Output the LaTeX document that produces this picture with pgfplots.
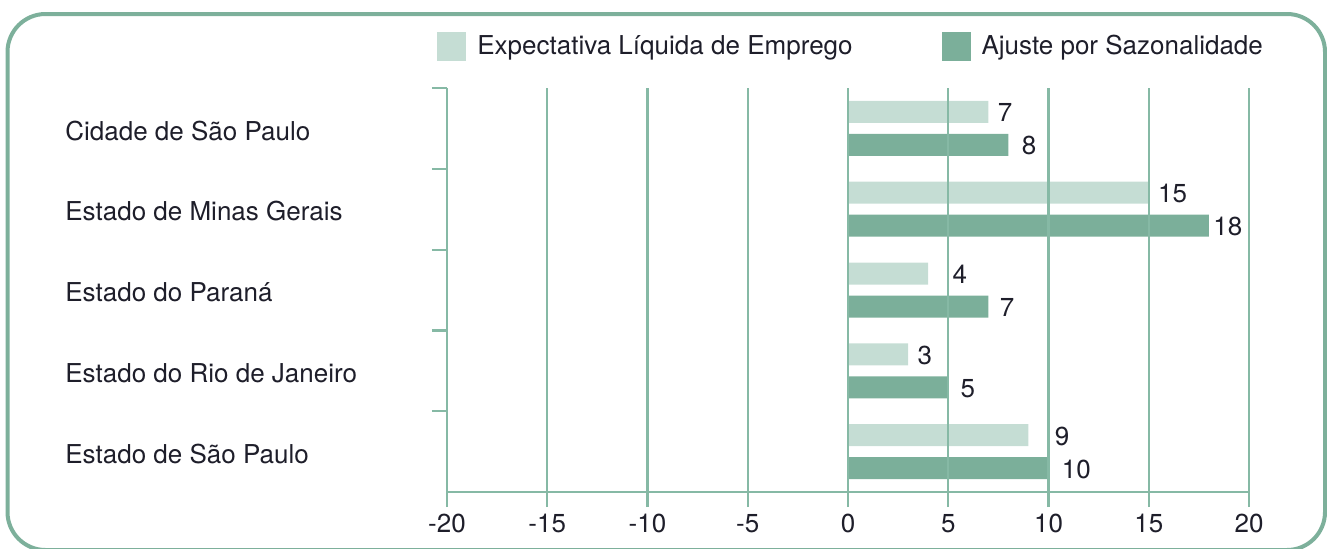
\documentclass[border=0pt]{standalone}
\usepackage{fontspec}
\setmainfont{TeX Gyre Heros}
\usepackage{pgfplots}
\pgfplotsset{compat=1.18}
\usepackage{pgfplotstable}
\definecolor{lightc}{HTML}{C5DDD4}
\definecolor{darkc}{HTML}{7BAF9A}
\definecolor{gridc}{HTML}{86B9A5}
\definecolor{framec}{HTML}{7DB09B}
\definecolor{txt}{HTML}{1E1E2A}

\pgfplotstableread{
y val dx
0 7 4.5
1 15 4.5
2 4 12
3 3 4.5
4 9 13
}\lighttable
\pgfplotstableread{
y val dx
0 8 6.5
1 18 2
2 7 5.5
3 5 6
4 10 6.5
}\darktable

\begin{document}
\begin{tikzpicture}[font=\fontsize{13pt}{15.6pt}\selectfont, text=txt]
\useasboundingbox (0,0) rectangle (663.5pt,274pt);
\draw[framec, line width=2pt, rounded corners=19pt] (3.75pt,-1pt) rectangle (662.5pt,267pt);
\begin{axis}[
  at={(223.5pt,28pt)}, anchor=south west,
  scale only axis, width=401pt, height=202pt,
  xmin=-20, xmax=20, ymin=-0.5, ymax=4.5, y dir=reverse,
  axis x line*=bottom, axis y line*=left,
  axis line style={draw=gridc, line width=1.1pt, -},
  xtick={-20,-15,...,20},
  xticklabels={-20,-15,-10,-5,0,5,10,15,20},
  xticklabel style={anchor=base, inner sep=0pt, yshift=-12.5pt, font=\fontsize{13pt}{15.6pt}\selectfont, text=txt},
  ytick={-0.5,0.5,1.5,2.5,3.5},
  yticklabels={},
  extra y ticks={0,1,2,3,4},
  extra y tick labels={Cidade de São Paulo,Estado de Minas Gerais,Estado do Paraná,Estado do Rio de Janeiro,Estado de São Paulo},
  extra y tick style={major tick length=0pt, grid=none,
    yticklabel style={anchor=base west, inner sep=0pt, xshift=-191pt, yshift=-5.8pt, font=\fontsize{13pt}{15.6pt}\selectfont, text=txt}},
  tick align=outside,
  major tick length=7.5pt,
  tick style={draw=gridc, line width=1.1pt},
  xmajorgrids, grid style={draw=gridc, line width=1.1pt},
  axis on top,
  xbar, bar width=11pt,
  /pgf/number format/assume math mode=true,
  nodes near coords,
  every node near coord/.append style={anchor=base west, inner sep=0pt, font=\fontsize{13pt}{15.6pt}\selectfont, text=txt},
  legend columns=2,
  legend style={at={(0,1)}, anchor=north west, xshift=-5pt, yshift=28.5pt,
    draw=none, fill=none, inner sep=0pt, font=\fontsize{13pt}{15.6pt}\selectfont, text=txt,
    cells={anchor=west, inner sep=0pt},
    /tikz/every odd column/.append style={column sep=3.5pt},
    /tikz/every even column/.append style={column sep=42.5pt}},
]
\addplot[fill=lightc, draw=none, bar shift=8.25pt, point meta=x,
  visualization depends on={\thisrow{dx} \as \dx},
  every node near coord/.append style={xshift=\dx pt, yshift=-5pt},
  legend image code/.code={\fill[lightc] (0pt,-7.25pt) rectangle (14.5pt,7.25pt);}]
  table[x=val, y=y] {\lighttable};
\addlegendentry{Expectativa Líquida de Emprego}
\addplot[fill=darkc, draw=none, bar shift=-8.25pt, point meta=x,
  visualization depends on={\thisrow{dx} \as \dx},
  every node near coord/.append style={xshift=\dx pt, yshift=-5pt},
  legend image code/.code={\fill[darkc] (0pt,-7.25pt) rectangle (14.5pt,7.25pt);}]
  table[x=val, y=y] {\darktable};
\addlegendentry{Ajuste por Sazonalidade}
\end{axis}
\end{tikzpicture}
\end{document}
